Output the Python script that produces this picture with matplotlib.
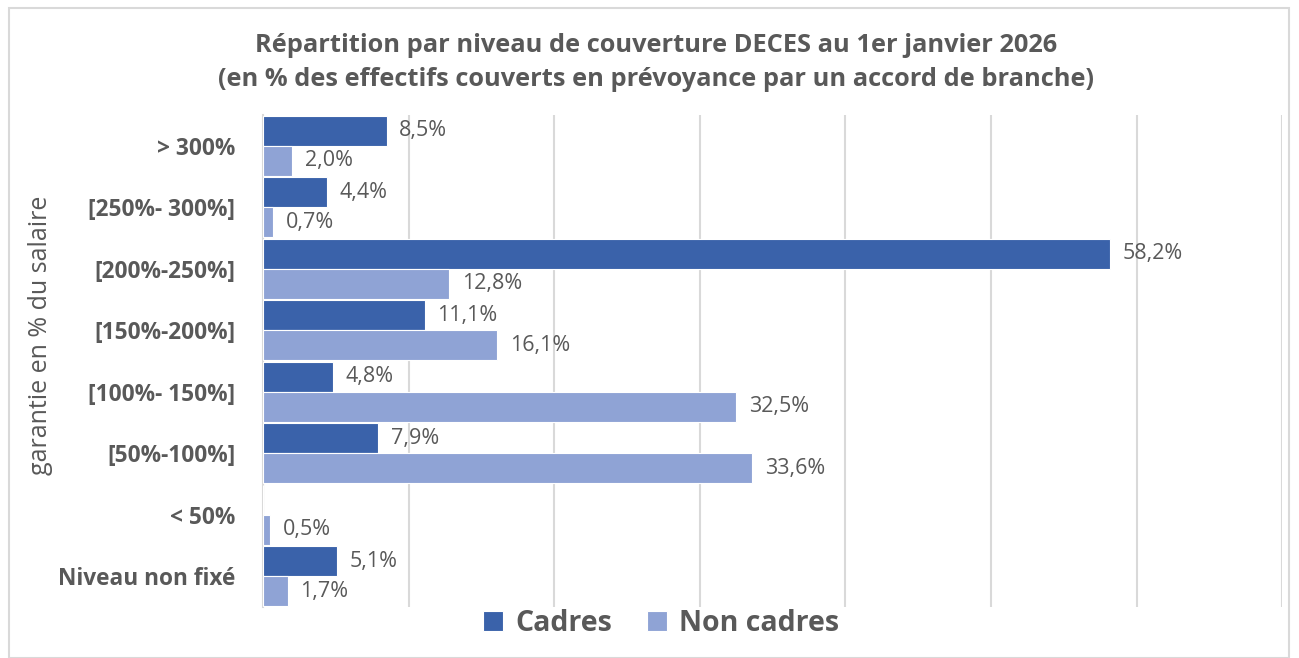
import numpy as np
import matplotlib.pyplot as plt
from matplotlib.patches import Rectangle

plt.rcParams['font.family'] = ['Open Sans', 'DejaVu Sans']

categories = ["> 300%", "[250%- 300%]", "[200%-250%]", "[150%-200%]",
              "[100%- 150%]", "[50%-100%]", "< 50%", "Niveau non fixé"]
cadres = [8.5, 4.4, 58.2, 11.1, 4.8, 7.9, 0.0, 5.1]
non_cadres = [2.0, 0.7, 12.8, 16.1, 32.5, 33.6, 0.5, 1.7]
series_names = ["Cadres", "Non cadres"]

c_dark = "#3a62aa"
c_light = "#8fa3d5"
txt = "#595959"

fig = plt.figure(figsize=(12.99, 6.58), dpi=100)
fig.patches.append(Rectangle((0.007, 0.0), 0.985, 0.988, transform=fig.transFigure,
                             fill=False, edgecolor="#d9d9d9", linewidth=1.5))

ax = fig.add_axes([0.2025, 0.0775, 0.7845, 0.7477])

y = np.arange(len(categories))
h = 0.485
ax.barh(y - h / 2, cadres, height=h, color=c_dark, label=series_names[0],
        edgecolor="white", linewidth=0.8, zorder=3)
ax.barh(y + h / 2, non_cadres, height=h, color=c_light, label=series_names[1],
        edgecolor="white", linewidth=0.8, zorder=3)

# data labels (no label for a zero bar)
for i in range(len(categories)):
    for vals, off in ((cadres, -h / 2), (non_cadres, h / 2)):
        v = vals[i]
        if v > 0:
            ax.annotate(f"{v:.1f}%".replace(".", ","), (v, y[i] + off),
                        xytext=(9, 0), textcoords="offset points",
                        va="center", ha="left", fontsize=15.5, color=txt)

ax.set_xlim(0, 70)
ax.set_ylim(len(categories) - 0.5, -0.5)
ax.set_xticks(np.arange(0, 71, 10))
ax.set_xticklabels([])
ax.tick_params(axis="x", length=0)
ax.tick_params(axis="y", length=0, pad=20)
ax.set_yticks(y)
ax.set_yticklabels(categories, fontsize=16.3, fontweight="bold", color=txt)
ax.grid(axis="x", color="#d9d9d9", linewidth=1.5, zorder=0)
for s in ["top", "right", "bottom"]:
    ax.spines[s].set_visible(False)
ax.spines["left"].set_color("#d9d9d9")
ax.spines["left"].set_linewidth(1.5)

fig.text(0.031, 0.49, "garantie en % du salaire", rotation=90, va="center",
         ha="center", fontsize=18, color=txt)

fig.text(0.505, 0.905, "Répartition par niveau de couverture DECES au 1er janvier 2026\n"
         "(en % des effectifs couverts en prévoyance par un accord de branche)",
         ha="center", va="center", fontsize=18.3, fontweight="bold", color=txt,
         linespacing=1.45)

leg = fig.legend(loc="center", bbox_to_anchor=(0.509, 0.052), ncol=2, frameon=False,
                 prop={"size": 20.5, "weight": "bold"}, handlelength=0.7,
                 handleheight=0.7, columnspacing=1.2, handletextpad=0.45)
for t in leg.get_texts():
    t.set_color(txt)

fig.savefig("out.png", dpi=100)
